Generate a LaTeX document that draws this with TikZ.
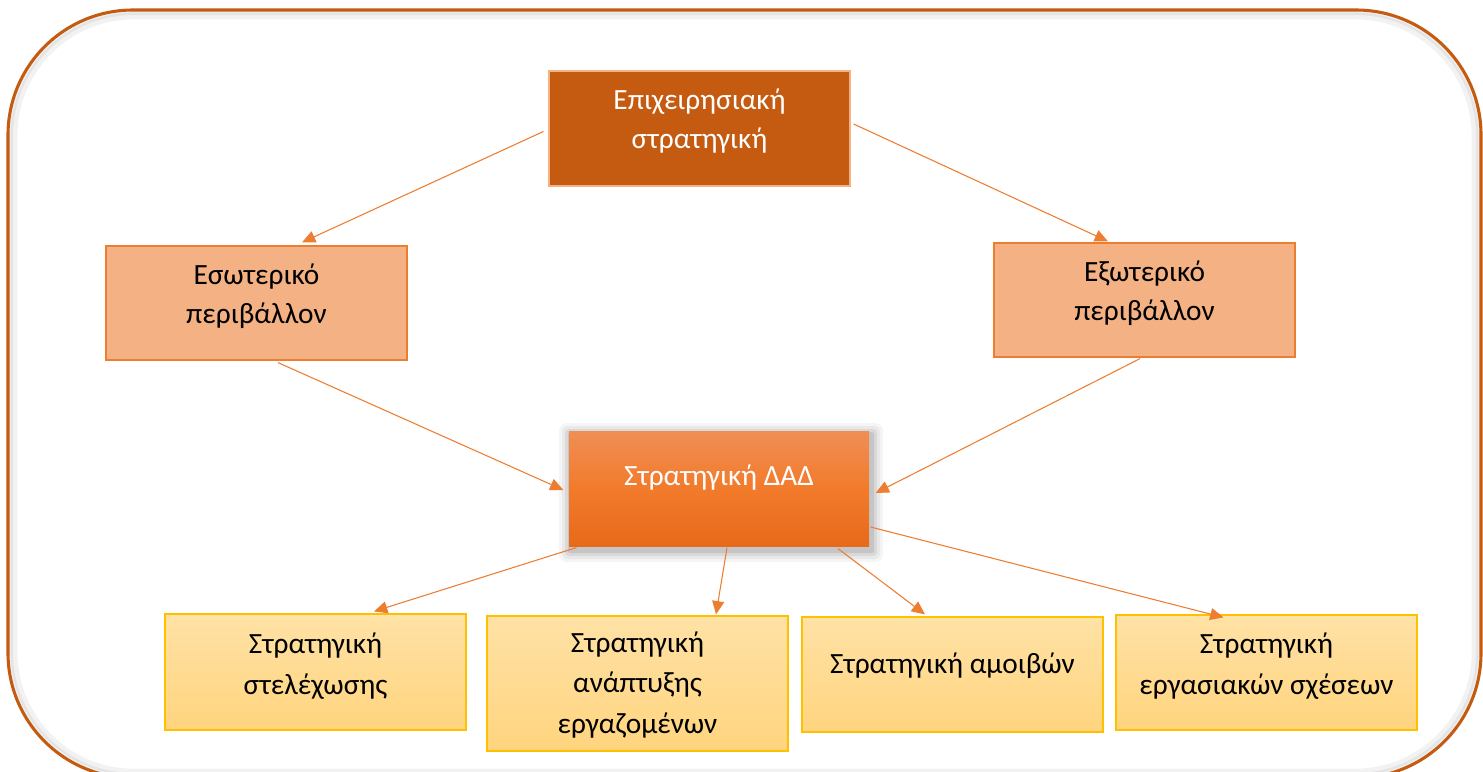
\documentclass[tikz,border=0pt]{standalone}
\usepackage{fontspec}
\setmainfont{Carlito}
\usetikzlibrary{arrows.meta,calc}
\definecolor{darkor}{HTML}{C55A11}
\definecolor{lightor}{HTML}{F4B183}
\definecolor{midor}{HTML}{ED7D31}
\definecolor{goldline}{HTML}{FFC000}
\definecolor{goldtop}{HTML}{FFE2A6}
\definecolor{goldbot}{HTML}{FFD47E}
\definecolor{dadtop}{HTML}{F08E55}
\definecolor{dadmid}{HTML}{F27B2B}
\definecolor{dadbot}{HTML}{E8691A}
\begin{document}
\begin{tikzpicture}[x=0.75pt,y=-0.75pt,
  box/.style={rectangle, inner sep=0pt, line width=0.9pt, minimum width=225.75pt},
  lbl/.style={font=\fontsize{22}{29}\selectfont, align=center, inner sep=0pt},
  lblb/.style={font=\fontsize{22}{30.5}\selectfont, align=center, inner sep=0pt},
  conn/.style={draw=midor, line width=0.8pt, -{Triangle[length=10pt,width=9pt]}, color=midor},
]
\useasboundingbox (0,0) rectangle (1483,771);
\begin{scope}
  \clip (0,0) rectangle (1483,771);
  \draw[black, opacity=0.05, line width=5pt, rounded corners=90pt] (14,16) rectangle (1475,772);
  \draw[black, opacity=0.06, line width=3pt, rounded corners=92pt] (11,13) rectangle (1478,775);
  \draw[darkor, line width=2.3pt, rounded corners=93.75pt] (8,10) rectangle (1481,778);
\end{scope}

% top
\node[box, fill=darkor, draw=lightor, minimum height=86.25pt] (top) at (699.5,128.5) {};
\node[lbl, text=white] (topt) at (699.5,121) {Επιχειρησιακή\\στρατηγική};

% environments
\node[box, fill=lightor, draw=midor, minimum height=85.5pt] (esw) at (256.5,303) {};
\node[lbl] (eswt) at (256.5,296) {Εσωτερικό\\περιβάλλον};
\node[box, fill=lightor, draw=midor, minimum height=85.5pt] (exw) at (1144.5,300) {};
\node[lbl] (exwt) at (1144.5,293) {Εξωτερικό\\περιβάλλον};

% center shadow (soft)
\foreach \s/\o in {12/0.04,9/0.05,6/0.07,3/0.09}{
  \fill[black, opacity=\o, rounded corners=\s*0.5pt]
    (569-\s+2,431-\s+4) rectangle (869+\s+2,546+\s+4);
}
\node[box, draw=none, top color=dadtop, bottom color=dadbot, middle color=dadmid,
      minimum width=225pt, minimum height=86.25pt] (dad) at (719,488.5) {};
\node[lbl, text=white] (dadt) at (719,478) {Στρατηγική ΔΑΔ};

% bottom row
\tikzset{gold/.style={box, draw=goldline, top color=goldtop, bottom color=goldbot}}
\node[gold, minimum height=87pt] (b1) at (315.5,672) {};
\node[lblb] (b1t) at (315.5,666) {Στρατηγική\\στελέχωσης};
\node[gold, minimum height=101.25pt] (b2) at (637.5,683.5) {};
\node[lblb] (b2t) at (637.5,685) {Στρατηγική\\ανάπτυξης\\εργαζομένων};
\node[gold, minimum height=86.25pt] (b3) at (952.5,674.5) {};
\node[lblb] (b3t) at (952.5,666) {Στρατηγική αμοιβών};
\node[gold, minimum height=86.25pt] (b4) at (1266.5,672.5) {};
\node[lblb] (b4t) at (1266.5,666) {Στρατηγική\\εργασιακών σχέσεων};

% connectors
\draw[conn] ($(top.west)+(-5,3)$) -- ($(esw.north)+(45.5,-3)$);
\draw[conn] ($(top.east)+(3,-4.5)$) -- ($(exw.north)+(-36.5,-1)$);
\draw[conn] ($(esw.south)+(21.5,2)$) -- ($(dad.west)+(-5,1.5)$);
\draw[conn] ($(exw.south)+(-4.5,1)$) -- ($(dad.east)+(6,4.5)$);
\draw[conn] ($(dad.south west)+(8,1)$) -- ($(b1.north)+(58.5,-2)$);
\draw[conn] ($(dad.south)+(8,1)$) -- ($(b2.north)+(78.5,-1)$);
\draw[conn] ($(dad.south)+(119,2)$) -- ($(b3.north)+(-27.5,-2)$);
\draw[conn] ($(dad.east)+(1,38.5)$) -- ($(b4.north)+(-43,3)$);
\end{tikzpicture}
\end{document}
